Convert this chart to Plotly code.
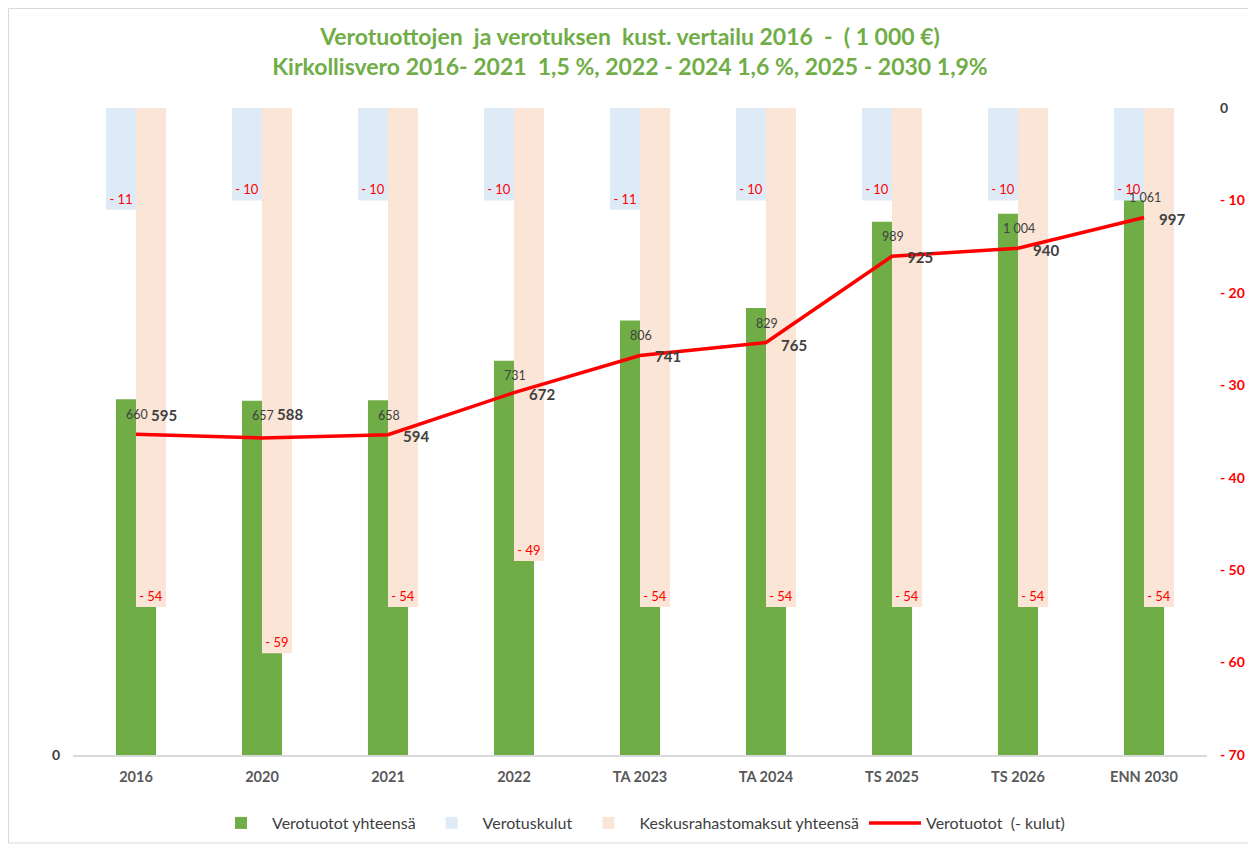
import plotly.graph_objects as go

categories = ["2016", "2020", "2021", "2022", "TA 2023", "TA 2024", "TS 2025", "TS 2026", "ENN 2030"]
verotuotot = [660, 657, 658, 731, 806, 829, 989, 1004, 1061]
verotuskulut = [-11, -10, -10, -10, -11, -10, -10, -10, -10]
keskusrahasto = [-54, -59, -54, -49, -54, -54, -54, -54, -54]
netto = [595, 588, 594, 672, 741, 765, 925, 940, 997]
right_ticks = [0, -10, -20, -30, -40, -50, -60, -70]

# label offsets (pixels) for the net-line labels
netto_label_yshift = [19, 24, -1, -1, -1, -2, -1, -2, -2]

GREEN = "#70AD47"
BLUE = "#DEEBF7"
PEACH = "#FBE5D6"
RED = "#FF0000"
DARK = "#404040"
FONT = "Lato"

# page has an 8px body margin: the figure is sized/placed to compensate
W, H = 1248, 838
ML, MR, MT, MB = 65, 49, 100, 91
PW, PH = W - ML - MR, H - MT - MB


def neg_fmt(v):
    return f"- {abs(v)}" if v < 0 else str(v)


def thou(v):
    return f"{v:,}".replace(",", " ")


fig = go.Figure()

fig.add_trace(go.Bar(
    x=categories, y=verotuotot, name="Verotuotot yhteensä",
    marker=dict(color=GREEN, line=dict(width=0)),
    width=0.318, offset=-0.159, yaxis="y", hoverinfo="y",
))
fig.add_trace(go.Bar(
    x=categories, y=verotuskulut, name="Verotuskulut",
    marker=dict(color=BLUE, line=dict(width=0)),
    width=0.238, offset=-0.238, yaxis="y2",
    text=[neg_fmt(v) for v in verotuskulut], textposition="inside",
    insidetextanchor="end", textangle=0,
    textfont=dict(color=RED, size=13, family=FONT),
))
fig.add_trace(go.Bar(
    x=categories, y=keskusrahasto, name="Keskusrahastomaksut yhteensä",
    marker=dict(color=PEACH, line=dict(width=0)),
    width=0.238, offset=0.0, yaxis="y2",
    text=[neg_fmt(v) for v in keskusrahasto], textposition="inside",
    insidetextanchor="end", textangle=0,
    textfont=dict(color=RED, size=13, family=FONT),
))
fig.add_trace(go.Scatter(
    x=categories, y=netto, name="Verotuotot  (- kulut)",
    mode="lines", line=dict(color=RED, width=3.5),
    yaxis="y3",
))

annotations = []
# category index positions (numeric strings like "2016" would be read as coordinates)
for i, v in enumerate(verotuotot):
    annotations.append(dict(
        x=i, y=v, xref="x", yref="y", text=thou(v), showarrow=False,
        yshift=-15, xshift=1, font=dict(color=DARK, size=12.5, family=FONT),
    ))
for i, (v, ys) in enumerate(zip(netto, netto_label_yshift)):
    annotations.append(dict(
        x=i, y=v, xref="x", yref="y", text=f"<b>{v}</b>", showarrow=False,
        xanchor="left", yanchor="middle", xshift=13, yshift=ys,
        font=dict(color=DARK, size=15, family=FONT),
    ))

fig.update_layout(
    width=W, height=H,
    paper_bgcolor="white", plot_bgcolor="white",
    margin=dict(l=ML, r=MR, t=MT, b=MB, autoexpand=False),
    barmode="overlay",
    font=dict(family=FONT, color=DARK),
    title=dict(
        text="Verotuottojen  ja verotuksen  kust. vertailu 2016  -  ( 1 000 €)<br>Kirkollisvero 2016- 2021  1,5 %, 2022 - 2024 1,6 %, 2025 - 2030 1,9%",
        x=622 / W, xanchor="center", y=1 - 37 / H, yanchor="middle",
        font=dict(color=GREEN, size=23, family=FONT, weight="bold"),
    ),
    xaxis=dict(
        type="category", range=[-0.5, 8.5], showgrid=False,
        showline=True, linecolor="#D9D9D9", linewidth=1.5, ticks="",
        ticklabelstandoff=8,
        tickfont=dict(color="#595959", size=14.5, family=FONT, weight="bold"),
    ),
    yaxis=dict(
        range=[0, 1200], showgrid=False, zeroline=False,
        tickvals=[0], ticktext=["0"], ticks="", ticklabelstandoff=12,
        tickfont=dict(color=DARK, size=14, family=FONT, weight="bold"),
    ),
    yaxis2=dict(
        range=[-70, 0], overlaying="y", side="right", showgrid=False,
        zeroline=False, ticks="", ticklabelstandoff=12,
        tickvals=right_ticks,
        ticktext=["<span style='color:#404040'>0</span>"] + [neg_fmt(v) for v in right_ticks[1:]],
        tickfont=dict(color=RED, size=14, family=FONT, weight="bold"),
    ),
    yaxis3=dict(
        range=[0, 1200], overlaying="y", visible=False,
    ),
    legend=dict(
        orientation="h", x=0.5, xanchor="center", y=(PH - (815 - MT)) / PH, yanchor="middle",
        font=dict(color=DARK, size=16, family=FONT), traceorder="normal",
        itemwidth=52,
    ),
    annotations=annotations,
    shapes=[dict(
        type="rect", xref="paper", yref="paper",
        x0=(0.5 - ML) / PW, x1=(1244 - ML) / PW,
        y0=(PH + MT - 835) / PH, y1=(PH + MT - 0.5) / PH,
        line=dict(color="#D9D9D9", width=1), fillcolor="rgba(0,0,0,0)", layer="below",
    )],
    showlegend=True,
)

fig.write_html("out.html")
